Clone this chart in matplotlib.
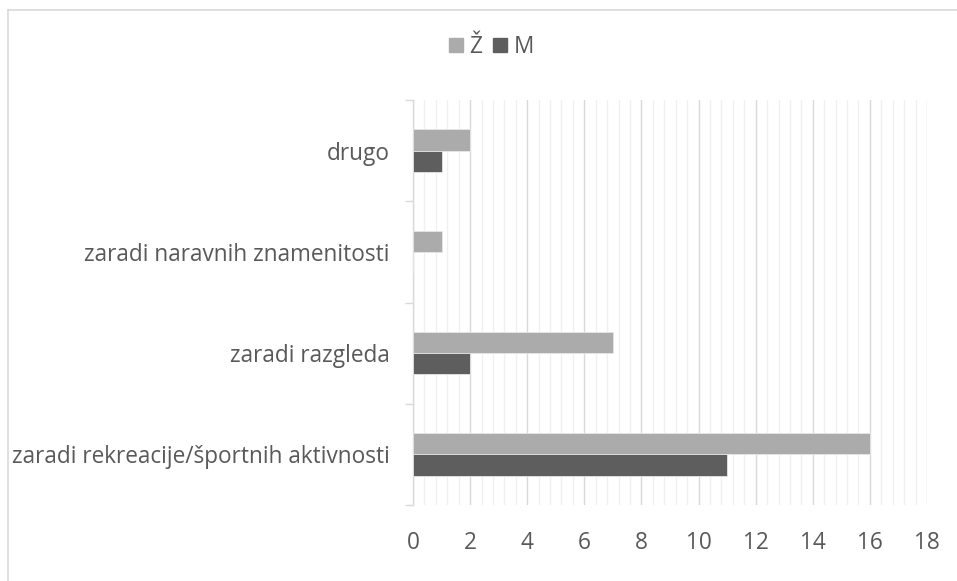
import numpy as np
import matplotlib
matplotlib.use("Agg")
import matplotlib.pyplot as plt
from matplotlib.lines import Line2D

# podatki
categories = ["zaradi rekreacije/športnih aktivnosti", "zaradi razgleda",
              "zaradi naravnih znamenitosti", "drugo"]
zenske = [16, 7, 1, 2]
moski = [11, 2, 0, 1]
series_names = ["Ž", "M"]
x_ticks = [0, 2, 4, 6, 8, 10, 12, 14, 16, 18]

plt.rcParams['font.family'] = ['Open Sans', 'DejaVu Sans']
fs = 16.3

fig = plt.figure(figsize=(9.57, 5.81), dpi=100)
ax = fig.add_axes([413/957, 1 - 505/581, (927-413)/957, (505-100)/581])

y = np.arange(len(categories))
h = 0.21
ax.barh(y + h/2, zenske, height=h, color='#ABABAB', edgecolor='#E6E6E6', linewidth=0.6, zorder=3)
ax.barh(y - h/2, moski, height=h, color='#5E5E5E', edgecolor='#E6E6E6', linewidth=0.6, zorder=3)

ax.set_xlim(0, 18)
ax.set_ylim(-0.5, len(categories) - 0.5)
ax.set_xticks(x_ticks)
ax.set_xticks(np.arange(0, 18.01, 0.4), minor=True)
ax.grid(axis='x', which='major', color='#D9D9D9', linewidth=1.0, zorder=0)
ax.grid(axis='x', which='minor', color='#F0F0F0', linewidth=1.0, zorder=0)
ax.tick_params(axis='x', which='both', length=0, pad=19, labelsize=fs, labelcolor='#595959')

# kategorijske oznake in kljukice na mejah
ax.set_yticks(y)
ax.set_yticklabels(categories)
ax.set_yticks(np.arange(-0.5, len(categories), 1.0), minor=True)
ax.tick_params(axis='y', which='major', length=0, pad=17, labelsize=fs, labelcolor='#595959')
ax.tick_params(axis='y', which='minor', length=6, color='#D9D9D9', width=1.0)

for s in ['top', 'right', 'bottom']:
    ax.spines[s].set_visible(False)
ax.spines['left'].set_color('#D9D9D9')
ax.spines['left'].set_linewidth(1.0)

handles = [Line2D([], [], marker='s', linestyle='', markersize=10, color=c)
           for c in ['#ABABAB', '#5E5E5E']]
fig.legend(handles, series_names, loc='center', bbox_to_anchor=(487/957, 1 - 47/581),
           ncol=2, frameon=False, fontsize=fs, handletextpad=-0.12, columnspacing=0.1,
           handlelength=1.4, labelcolor='#595959', borderpad=0)

# okvir grafikona
fig.add_artist(Line2D([8/957, 1], [1 - 10/581, 1 - 10/581], transform=fig.transFigure, color='#D9D9D9', linewidth=1.2))
fig.add_artist(Line2D([8/957, 8/957], [0, 1 - 10/581], transform=fig.transFigure, color='#D9D9D9', linewidth=1.2))

fig.savefig("out.png", dpi=100)
